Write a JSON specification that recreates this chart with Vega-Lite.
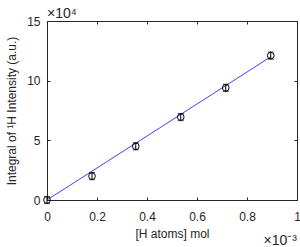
{
  "$schema": "https://vega.github.io/schema/vega-lite/v6.json",
  "width": 250,
  "height": 179,
  "autosize": {"type": "none"},
  "padding": {"left": 47, "top": 21, "right": 3, "bottom": 47},
  "background": "white",
  "config": {
    "view": {"stroke": "#262626", "strokeWidth": 1},
    "font": "Liberation Sans",
    "axis": {
      "domainColor": "#262626",
      "tickColor": "#262626",
      "tickSize": -3,
      "grid": false,
      "labelFont": "Liberation Sans",
      "labelFontSize": 12,
      "labelColor": "#262626",
      "titleFont": "Liberation Sans",
      "titleFontSize": 12,
      "titleFontWeight": "normal",
      "titleColor": "#262626"
    }
  },
  "datasets": {
    "pts": [
      {"x": 0.0, "y": 0.0, "lo": -0.3, "hi": 0.3},
      {"x": 0.18, "y": 2.0, "lo": 1.7, "hi": 2.3},
      {"x": 0.355, "y": 4.5, "lo": 4.2, "hi": 4.8},
      {"x": 0.535, "y": 6.95, "lo": 6.65, "hi": 7.25},
      {"x": 0.715, "y": 9.4, "lo": 9.1, "hi": 9.7},
      {"x": 0.895, "y": 12.1, "lo": 11.8, "hi": 12.4}
    ],
    "fit": [
      {"x": 0.0, "y": 0.0},
      {"x": 0.895, "y": 12.0}
    ],
    "notes": [
      {"x": 0, "y": 15, "label": "×10⁴", "pos": "top"},
      {"x": 1, "y": 0, "label": "×10⁻³", "pos": "bottom"}
    ]
  },
  "resolve": {"axis": {"x": "independent", "y": "independent"}},
  "layer": [
    {
      "data": {"name": "fit"},
      "mark": {"type": "line", "color": "#4040ff", "strokeWidth": 1},
      "encoding": {
        "x": {"field": "x", "type": "quantitative", "scale": {"domain": [0, 1], "nice": false},
              "axis": {"orient": "bottom", "values": [0, 0.2, 0.4, 0.6, 0.8, 1], "format": "~g", "title": "[H atoms] mol", "labelPadding": 14, "titlePadding": 6, "labelFlush": false}},
        "y": {"field": "y", "type": "quantitative", "scale": {"domain": [0, 15], "nice": false},
              "axis": {"orient": "left", "values": [0, 5, 10, 15], "title": "Integral of ¹H Intensity (a.u.)", "labelPadding": 10, "titlePadding": 8}}
      }
    },
    {
      "data": {"name": "pts"},
      "mark": {"type": "rule", "color": "black", "strokeWidth": 1},
      "encoding": {
        "x": {"field": "x", "type": "quantitative", "axis": {"orient": "top", "values": [0, 0.2, 0.4, 0.6, 0.8, 1], "labels": false, "title": null, "domain": false}},
        "y": {"field": "lo", "type": "quantitative", "axis": {"orient": "right", "values": [0, 5, 10, 15], "labels": false, "title": null, "domain": false}},
        "y2": {"field": "hi"}
      }
    },
    {
      "data": {"name": "pts"},
      "mark": {"type": "tick", "orient": "horizontal", "color": "black", "size": 6, "thickness": 1},
      "encoding": {
        "x": {"field": "x", "type": "quantitative", "axis": null},
        "y": {"field": "lo", "type": "quantitative", "axis": null}
      }
    },
    {
      "data": {"name": "pts"},
      "mark": {"type": "tick", "orient": "horizontal", "color": "black", "size": 6, "thickness": 1},
      "encoding": {
        "x": {"field": "x", "type": "quantitative", "axis": null},
        "y": {"field": "hi", "type": "quantitative", "axis": null}
      }
    },
    {
      "data": {"name": "pts"},
      "mark": {"type": "point", "shape": "circle", "filled": false, "color": "black", "size": 45, "strokeWidth": 1, "opacity": 1},
      "encoding": {
        "x": {"field": "x", "type": "quantitative", "axis": null},
        "y": {"field": "y", "type": "quantitative", "axis": null}
      }
    },
    {
      "data": {"name": "notes"},
      "transform": [{"filter": "datum.pos === 'top'"}],
      "mark": {"type": "text", "align": "left", "baseline": "alphabetic", "dy": -3, "fontSize": 14, "color": "#262626"},
      "encoding": {
        "x": {"field": "x", "type": "quantitative", "axis": null},
        "y": {"field": "y", "type": "quantitative", "axis": null},
        "text": {"field": "label"}
      }
    },
    {
      "data": {"name": "notes"},
      "transform": [{"filter": "datum.pos === 'bottom'"}],
      "mark": {"type": "text", "align": "right", "baseline": "alphabetic", "dy": 45, "fontSize": 14, "color": "#262626"},
      "encoding": {
        "x": {"field": "x", "type": "quantitative", "axis": null},
        "y": {"field": "y", "type": "quantitative", "axis": null},
        "text": {"field": "label"}
      }
    }
  ]
}
